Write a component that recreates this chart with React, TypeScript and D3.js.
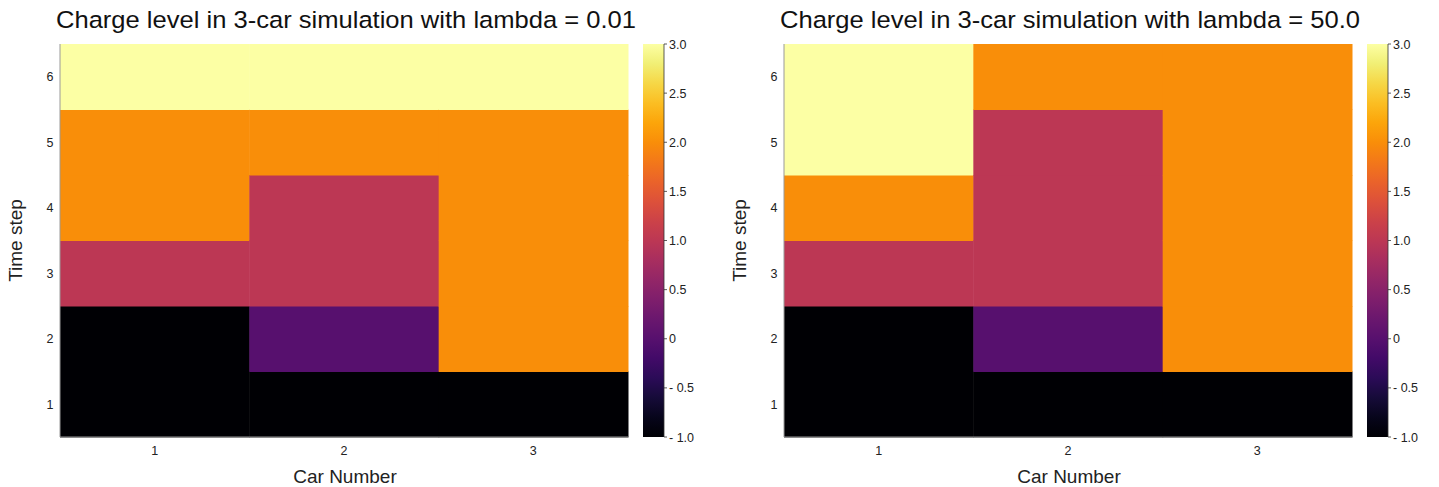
import * as d3 from "d3";

// data: charge level per car (outer) and time step (inner)
const cars = [1, 2, 3];
const timeSteps = [1, 2, 3, 4, 5, 6];
const chargeLambdaLow = [
  [-1, -1, 1, 2, 2, 3],
  [-1, 0, 1, 1, 2, 3],
  [-1, 2, 2, 2, 2, 3],
];
const chargeLambdaHigh = [
  [-1, -1, 1, 2, 3, 3],
  [-1, 0, 1, 1, 1, 2],
  [-1, 2, 2, 2, 2, 2],
];
const colorTicks = [3, 2.5, 2, 1.5, 1, 0.5, 0, -0.5, -1];
const colorDomain = [-1, 3];

const FONT = "'Liberation Sans', Arial, sans-serif";

const fmtTick = (v: number) =>
  v === 0 ? "0" : v < 0 ? "- " + Math.abs(v).toFixed(1) : v.toFixed(1);

const Panel = ({ title, values, dx, id }: { title: string; values: number[][]; dx: number; id: string }) => {
  const left = 60, right = 628, top = 44, bottom = 437;
  const x = d3.scaleBand<number>().domain(cars).range([left, right]);
  const y = d3.scaleBand<number>().domain([...timeSteps].reverse()).range([top, bottom]);
  const cScale = d3.scaleLinear().domain(colorDomain).range([0, 1]);
  const color = (v: number) => d3.interpolateInferno(cScale(v));
  const cbY = d3.scaleLinear().domain(colorDomain).range([bottom, top]);
  const cbX = 643, cbW = 21;
  const stops = d3.range(0, 1.0001, 0.05);

  return (
    <g transform={`translate(${dx},0)`}>
      <defs>
        <linearGradient id={id} x1="0" y1="1" x2="0" y2="0">
          {stops.map((t) => (
            <stop key={t} offset={t} stopColor={d3.interpolateInferno(t)} />
          ))}
        </linearGradient>
      </defs>
      <text x={56} y={28} fontSize={24.5} fontFamily={FONT} fill="#111" textLength={580} lengthAdjust="spacingAndGlyphs">
        {title}
      </text>
      {cars.map((c, ci) =>
        timeSteps.map((t, ti) => (
          <rect
            key={`${c}-${t}`}
            x={x(c)}
            y={y(t)}
            width={x.bandwidth() + 0.5}
            height={y.bandwidth() + 0.5}
            fill={color(values[ci][ti])}
          />
        ))
      )}
      <line x1={left} x2={left} y1={top} y2={bottom} stroke="#999" />
      <line x1={left} x2={right} y1={bottom} y2={bottom} stroke="#999" />
      {timeSteps.map((t) => (
        <text key={t} x={50} y={y(t)! + y.bandwidth() / 2 + 4.5} fontSize={12.5} textAnchor="middle" fontFamily={FONT} fill="#222">
          {t}
        </text>
      ))}
      {cars.map((c) => (
        <text key={c} x={x(c)! + x.bandwidth() / 2} y={455} fontSize={12.5} textAnchor="middle" fontFamily={FONT} fill="#222">
          {c}
        </text>
      ))}
      <text x={345} y={483} fontSize={19} textAnchor="middle" fontFamily={FONT} fill="#222">
        Car Number
      </text>
      <text transform={`translate(22,${(top + bottom) / 2}) rotate(-90)`} fontSize={19} textAnchor="middle" fontFamily={FONT} fill="#222">
        Time step
      </text>
      <rect x={cbX} y={top} width={cbW} height={bottom - top} fill={`url(#${id})`} />
      <line x1={cbX + cbW} x2={cbX + cbW} y1={top} y2={bottom} stroke="#333" strokeWidth={0.8} />
      {colorTicks.map((v) => (
        <g key={v}>
          <line x1={cbX + cbW} x2={cbX + cbW + 3} y1={cbY(v)} y2={cbY(v)} stroke="#333" strokeWidth={0.8} />
          <text x={cbX + cbW + 5} y={cbY(v) + 4.5} fontSize={12.5} fontFamily={FONT} fill="#222">
            {fmtTick(v)}
          </text>
        </g>
      ))}
    </g>
  );
};

export default function App() {
  return (
    <svg width={1439} height={487} style={{ position: "absolute", left: 0, top: 0, background: "#fff" }}>
      <Panel id="cbLow" dx={0} values={chargeLambdaLow} title="Charge level in 3-car simulation with lambda = 0.01" />
      <Panel id="cbHigh" dx={724} values={chargeLambdaHigh} title="Charge level in 3-car simulation with lambda = 50.0" />
    </svg>
  );
}
